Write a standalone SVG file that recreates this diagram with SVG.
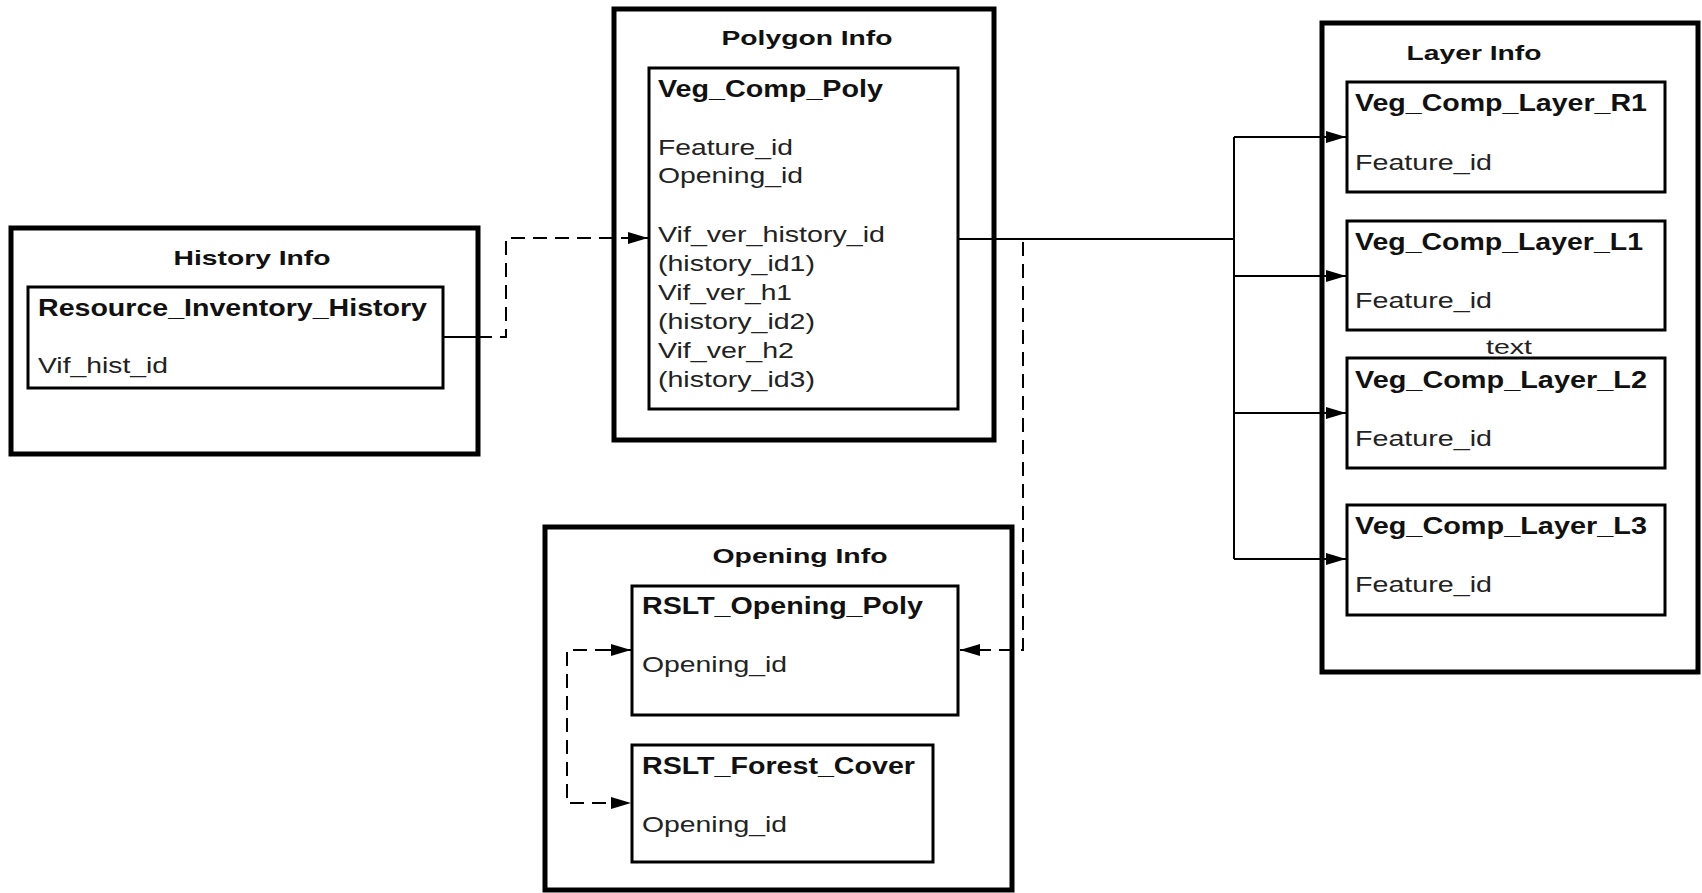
<svg xmlns="http://www.w3.org/2000/svg" width="1702" height="893" viewBox="0 0 1702 893">
<style>
.outer{fill:#fff;stroke:#000;stroke-width:5}
.inner{fill:#fff;stroke:#000;stroke-width:3}
.grp{font-family:"Liberation Sans",Arial,sans-serif;font-weight:bold;font-size:21px;fill:#111}
.ent{font-family:"Liberation Sans",Arial,sans-serif;font-weight:bold;font-size:23px;fill:#111}
.fld{font-family:"Liberation Sans",Arial,sans-serif;font-size:22px;fill:#222}
.lbl{font-family:"Liberation Sans",Arial,sans-serif;font-size:21px;fill:#222}
.solid{fill:none;stroke:#000;stroke-width:2}
.dash{fill:none;stroke:#000;stroke-width:2;stroke-dasharray:14 8}
</style>
<defs>
<marker id="arr" viewBox="0 0 20 12" refX="20" refY="6" markerWidth="20" markerHeight="12" markerUnits="userSpaceOnUse" orient="auto">
<path d="M0,0 L20,6 L0,12 z" fill="#000"/>
</marker>
</defs>
<rect width="1702" height="893" fill="#fff"/>

<g id="history-info">
<rect class="outer" x="11" y="228" width="467" height="226"/>
<text class="grp" x="252" y="265" text-anchor="middle" textLength="157" lengthAdjust="spacingAndGlyphs">History Info</text>
<g id="resource-inventory-history">
<rect class="inner" x="28" y="287" width="415" height="101"/>
<text class="ent" x="38" y="316" textLength="389" lengthAdjust="spacingAndGlyphs">Resource_Inventory_History</text>
<text class="fld" x="38" y="373" textLength="130" lengthAdjust="spacingAndGlyphs">Vif_hist_id</text>
</g>
</g>

<g id="polygon-info">
<rect class="outer" x="614" y="9" width="380" height="431"/>
<text class="grp" x="807" y="45" text-anchor="middle" textLength="171" lengthAdjust="spacingAndGlyphs">Polygon Info</text>
<g id="veg-comp-poly">
<rect class="inner" x="649" y="68" width="309" height="341"/>
<text class="ent" x="658" y="97" textLength="225" lengthAdjust="spacingAndGlyphs">Veg_Comp_Poly</text>
<text class="fld" x="658" y="155" textLength="135" lengthAdjust="spacingAndGlyphs">Feature_id</text>
<text class="fld" x="658" y="183" textLength="145" lengthAdjust="spacingAndGlyphs">Opening_id</text>
<text class="fld" x="658" y="242" textLength="227" lengthAdjust="spacingAndGlyphs">Vif_ver_history_id</text>
<text class="fld" x="658" y="271" textLength="157" lengthAdjust="spacingAndGlyphs">(history_id1)</text>
<text class="fld" x="658" y="300" textLength="134" lengthAdjust="spacingAndGlyphs">Vif_ver_h1</text>
<text class="fld" x="658" y="329" textLength="157" lengthAdjust="spacingAndGlyphs">(history_id2)</text>
<text class="fld" x="658" y="358" textLength="136" lengthAdjust="spacingAndGlyphs">Vif_ver_h2</text>
<text class="fld" x="658" y="387" textLength="157" lengthAdjust="spacingAndGlyphs">(history_id3)</text>
</g>
</g>

<g id="layer-info">
<rect class="outer" x="1322" y="23" width="376" height="649"/>
<text class="grp" x="1474" y="60" text-anchor="middle" textLength="135" lengthAdjust="spacingAndGlyphs">Layer Info</text>
<g id="veg-comp-layer-r1">
<rect class="inner" x="1347" y="82" width="318" height="110"/>
<text class="ent" x="1355" y="111" textLength="292" lengthAdjust="spacingAndGlyphs">Veg_Comp_Layer_R1</text>
<text class="fld" x="1355" y="170" textLength="137" lengthAdjust="spacingAndGlyphs">Feature_id</text>
</g>
<g id="veg-comp-layer-l1">
<rect class="inner" x="1347" y="221" width="318" height="109"/>
<text class="ent" x="1355" y="250" textLength="288" lengthAdjust="spacingAndGlyphs">Veg_Comp_Layer_L1</text>
<text class="fld" x="1355" y="308" textLength="137" lengthAdjust="spacingAndGlyphs">Feature_id</text>
</g>
<text id="text-label" class="lbl" x="1509" y="354" text-anchor="middle" textLength="46" lengthAdjust="spacingAndGlyphs">text</text>
<g id="veg-comp-layer-l2">
<rect class="inner" x="1347" y="358" width="318" height="110"/>
<text class="ent" x="1355" y="388" textLength="292" lengthAdjust="spacingAndGlyphs">Veg_Comp_Layer_L2</text>
<text class="fld" x="1355" y="446" textLength="137" lengthAdjust="spacingAndGlyphs">Feature_id</text>
</g>
<g id="veg-comp-layer-l3">
<rect class="inner" x="1347" y="505" width="318" height="110"/>
<text class="ent" x="1355" y="534" textLength="292" lengthAdjust="spacingAndGlyphs">Veg_Comp_Layer_L3</text>
<text class="fld" x="1355" y="592" textLength="137" lengthAdjust="spacingAndGlyphs">Feature_id</text>
</g>
</g>

<g id="opening-info">
<rect class="outer" x="545" y="527" width="467" height="363"/>
<text class="grp" x="800" y="563" text-anchor="middle" textLength="175" lengthAdjust="spacingAndGlyphs">Opening Info</text>
<g id="rslt-opening-poly">
<rect class="inner" x="632" y="586" width="326" height="129"/>
<text class="ent" x="642" y="614" textLength="281" lengthAdjust="spacingAndGlyphs">RSLT_Opening_Poly</text>
<text class="fld" x="642" y="672" textLength="145" lengthAdjust="spacingAndGlyphs">Opening_id</text>
</g>
<g id="rslt-forest-cover">
<rect class="inner" x="632" y="745" width="301" height="117"/>
<text class="ent" x="642" y="774" textLength="273" lengthAdjust="spacingAndGlyphs">RSLT_Forest_Cover</text>
<text class="fld" x="642" y="832" textLength="145" lengthAdjust="spacingAndGlyphs">Opening_id</text>
</g>
</g>

<g id="connectors">
<path class="solid" d="M443,337 H478"/>
<path class="dash" d="M478,337 H506 V238 H648" marker-end="url(#arr)"/>
<path class="solid" d="M958,239 H1234 V559"/>
<path class="solid" d="M1234,137 V239"/>
<path class="solid" d="M1234,137 H1346" marker-end="url(#arr)"/>
<path class="solid" d="M1234,276 H1346" marker-end="url(#arr)"/>
<path class="solid" d="M1234,413 H1346" marker-end="url(#arr)"/>
<path class="solid" d="M1234,559 H1346" marker-end="url(#arr)"/>
<path class="dash" d="M1023,242 V650 H960" marker-end="url(#arr)"/>
<path class="dash" d="M631,650 H567 V803 H631" marker-end="url(#arr)"/>
<path class="dash" d="M600,650 H631" marker-end="url(#arr)"/>
</g>
</svg>
